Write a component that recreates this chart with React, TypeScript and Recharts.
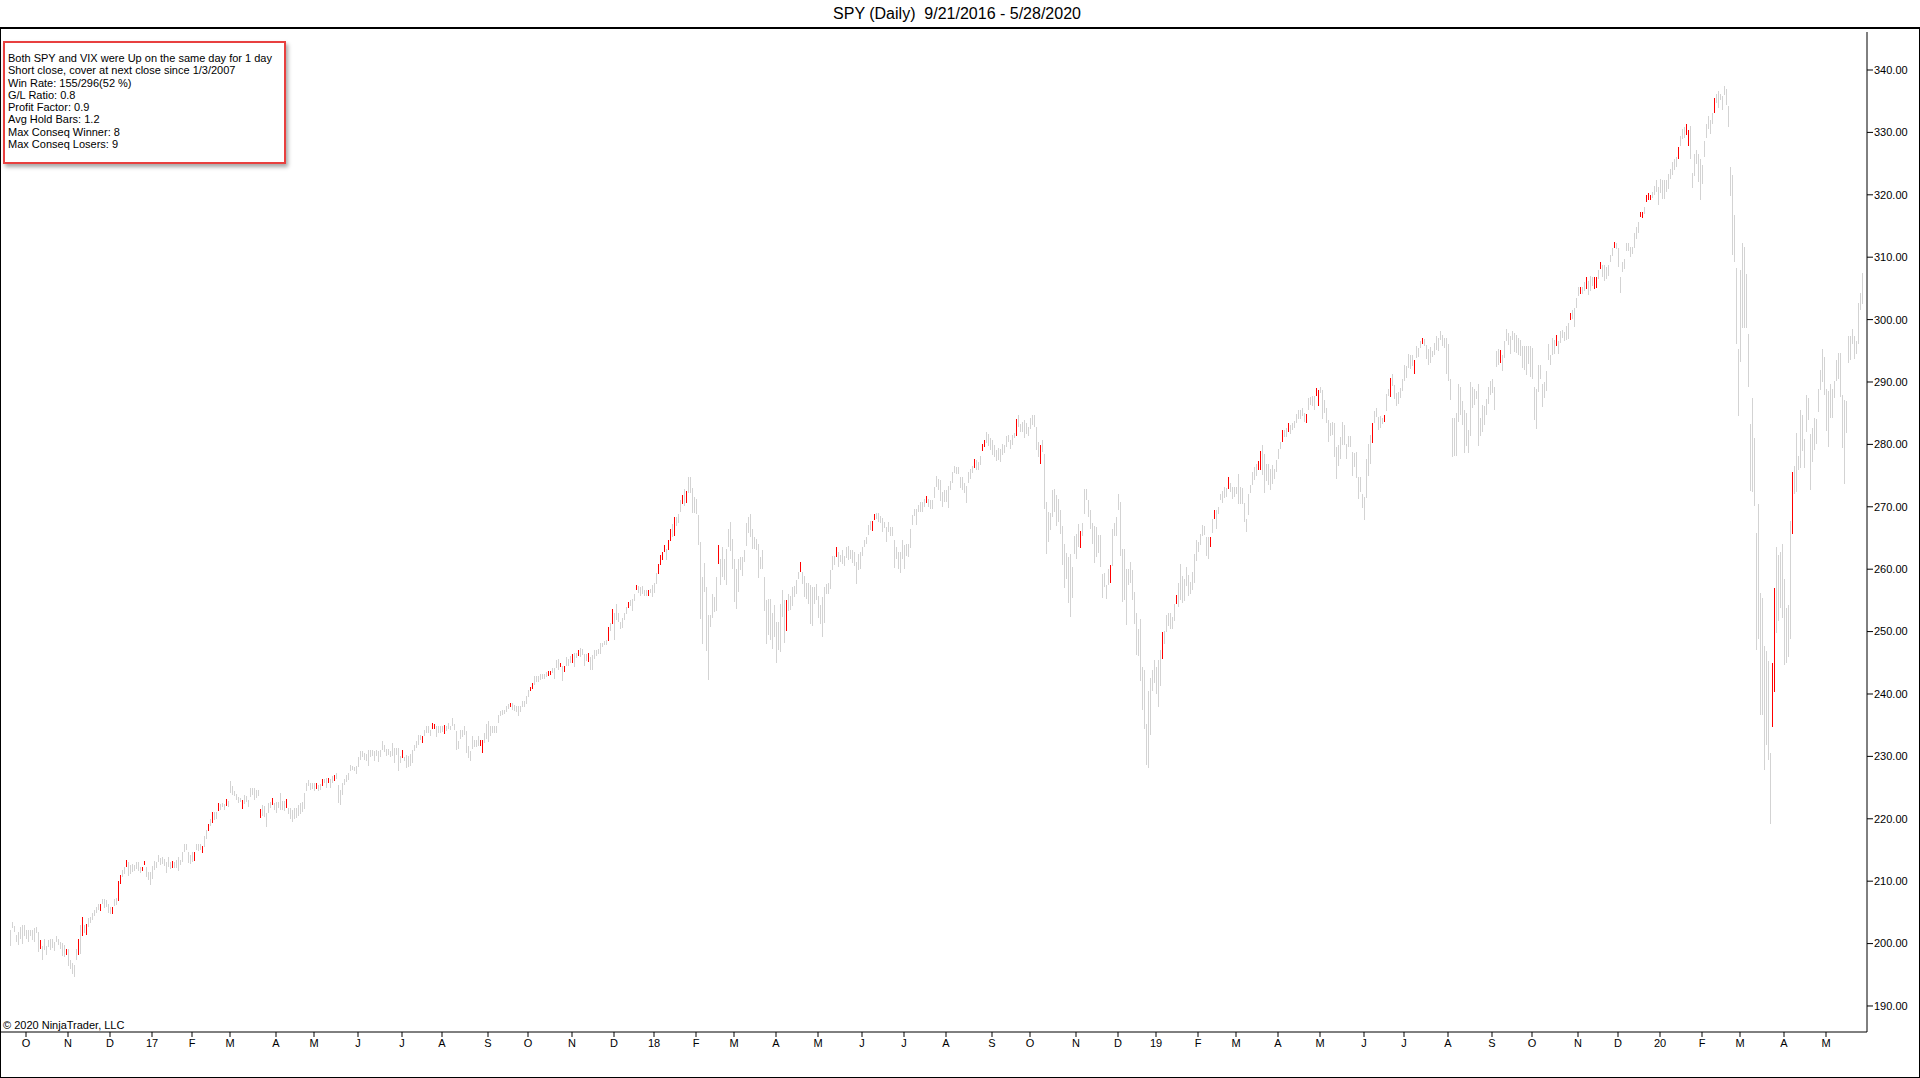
import { ComposedChart, Bar, XAxis, YAxis } from 'recharts'

// daily high/low ranges (dividend adjusted), one month per line
const y2016: [number, number][] = [
  [199.5,202.1],[202.5,203.4],[201.8,202.8],[200.1,201.3],[199.8,201.9],[200.7,202.7],[199.9,202.9],[201.2,203.0],
  [200.7,202.1],[200.1,202.1],[201.2,202.1],[200.5,202.1],[200.2,202.5],[201.8,202.7],[198.6,201.8],[199.0,200.5],[197.3,199.6],[199.0,200.7],[198.2,199.6],[199.4,200.5],[199.1,200.8],[199.2,200.7],[198.7,200.2],[200.3,201.2],[199.9,200.8],[199.1,200.3],[198.0,200.1],[197.8,199.8],[198.3,199.2],
  [196.3,199.1],[195.9,197.4],[195.2,196.9],[194.7,196.6],[197.5,199.2],[198.3,200.8],[198.3,203.0],[201.1,204.2],[201.7,203.0],[201.5,203.2],[202.7,204.1],[203.3,204.2],[203.8,204.9],[204.4,205.4],[204.9,205.9],[205.4,206.3],[205.3,206.4],[206.4,207.2],[205.8,207.2],[205.8,207.0],[204.9,206.4],
  [204.7,205.9],[204.7,205.9],[205.9,207.1],[206.2,207.3],[206.9,210.1],[209.6,211.0],[210.6,211.8],[211.0,212.2],[212.2,213.4],[210.7,213.0],[211.2,212.6],[211.4,212.7],[211.7,212.6],[211.9,213.0],[211.5,213.0],[211.4,212.3],[211.7,212.3],[212.5,213.2],[210.7,212.3],[210.2,211.5],[209.3,211.4],
]

const y2017: [number, number][] = [
  [210.3,212.4],[211.8,213.2],[212.1,213.1],[213.0,214.2],[212.6,213.7],[212.8,213.9],[212.3,213.5],[211.4,213.1],[212.3,213.9],[211.9,213.1],[212.2,213.3],[212.1,213.1],[212.1,213.4],[211.7,213.9],[212.6,213.4],[213.1,214.7],[214.7,216.0],[215.1,216.0],[212.9,214.6],[212.8,214.2],
  [213.0,214.6],[213.1,214.6],[214.9,215.9],[214.7,215.9],[215.0,215.9],[214.6,215.7],[215.5,217.2],[216.7,218.2],[218.1,219.2],[218.7,219.9],[219.4,221.1],[219.8,221.1],[219.9,221.1],[221.3,222.6],[221.5,222.4],[221.9,222.6],[221.4,222.4],[222.1,223.2],[221.9,222.9],
  [224.1,226.1],[223.8,225.2],[223.6,224.4],[223.0,224.0],[222.6,223.5],[222.7,223.3],[221.6,223.0],[222.4,223.8],[222.7,223.7],[221.9,223.0],[223.6,225.0],[223.8,225.0],[223.0,224.9],[223.3,224.6],[223.6,224.6],[220.0,221.5],[220.4,222.2],[220.4,222.1],[218.6,220.9],[221.0,222.6],[221.7,222.7],[222.1,223.3],[221.5,222.6],
  [220.9,222.7],[221.7,222.7],[221.4,224.1],[221.5,222.9],[221.3,222.9],[221.7,223.1],[220.8,221.8],[220.1,221.8],[219.5,221.4],[219.9,221.7],[220.1,221.7],[220.4,222.2],[220.9,222.6],[221.1,222.7],[221.5,224.1],[224.5,225.8],[225.2,226.2],[224.7,225.8],[224.9,225.8],
  [224.4,225.7],[224.9,225.8],[224.4,225.4],[224.7,225.6],[225.3,226.4],[225.7,226.4],[224.9,226.5],[225.8,226.6],[224.9,226.3],[225.7,226.8],[226.1,227.0],[226.3,227.3],[222.5,225.4],[222.2,224.6],[223.8,225.7],[225.3,226.3],[225.9,227.0],[226.2,227.3],[227.6,228.6],[227.8,228.5],[227.6,228.3],[227.2,228.5],
  [228.3,229.9],[229.4,230.8],[229.9,230.8],[229.4,230.5],[229.3,230.4],[228.4,231.0],[230.0,231.1],[230.2,231.1],[229.3,230.9],[230.0,231.0],[229.0,230.8],[229.9,231.1],[231.0,232.4],[230.6,231.8],[230.0,231.2],[230.2,231.2],[229.9,230.8],[230.0,232.1],[228.9,231.3],[230.1,231.3],[227.6,231.3],[228.9,230.0],
  [229.7,231.0],[229.2,229.9],[228.1,230.2],[228.3,230.1],[228.5,230.4],[228.9,231.0],[230.8,231.8],[231.3,232.4],[231.8,233.4],[232.6,233.4],[232.0,233.2],[233.4,234.3],[233.8,234.9],[233.7,234.8],[233.3,234.3],[234.3,235.3],[234.4,235.2],[233.1,234.9],[233.7,234.8],[233.7,234.9],
  [234.0,234.9],[233.6,235.0],[234.0,234.8],[234.3,235.3],[234.2,234.9],[234.8,236.1],[234.2,235.2],[231.1,234.1],[231.1,232.4],[232.7,234.2],[233.2,234.3],[233.4,234.9],[230.5,234.1],[229.7,231.7],[229.3,230.9],[231.1,233.2],[231.5,232.6],[231.4,232.6],[231.6,233.2],[231.6,232.6],[230.5,232.6],[232.1,233.7],[232.8,235.2],
  [232.4,235.7],[233.3,234.9],[233.7,234.8],[233.7,234.8],[233.7,234.8],[235.3,236.6],[236.5,237.3],[236.6,237.4],[236.8,237.5],[237.0,238.0],[237.6,238.4],[237.9,238.6],[237.4,238.5],[237.4,238.3],[237.2,238.1],[236.5,238.1],[237.2,238.1],[237.9,238.9],[238.0,238.9],[238.4,239.7],
  [239.6,240.7],[240.4,241.1],[240.7,241.7],[241.5,242.9],[242.0,242.9],[242.0,242.9],[242.3,243.2],[242.4,243.2],[242.4,243.2],[242.8,243.6],[242.9,243.7],[243.1,243.7],[243.3,244.1],[242.4,244.1],[244.1,245.4],[243.9,245.6],[244.3,244.9],[242.1,244.5],[243.6,244.5],[244.4,245.9],[244.5,245.6],[244.9,246.1],
  [245.0,246.4],[244.3,246.6],[245.7,246.5],[246.1,247.1],[246.0,247.4],[246.3,247.2],[244.4,246.4],[245.2,246.4],[245.2,246.6],[243.9,246.0],[243.8,246.2],[245.7,247.1],[246.2,247.1],[246.4,247.2],[246.5,248.2],[247.5,248.2],[247.9,248.5],[247.9,248.7],[248.6,250.8],[250.0,251.3],[251.3,253.7],
  [248.6,253.0],[251.8,254.4],[251.6,253.0],[250.5,251.6],[250.5,252.1],[251.8,253.0],[252.9,254.0],[253.9,254.8],[254.1,255.1],[253.2,255.2],[255.0,256.1],[256.7,257.5],[256.1,257.3],[255.7,257.2],[256.0,257.3],[255.7,256.6],[255.7,256.6],[255.7,256.7],[256.3,256.9],[255.5,257.5],
]

const y2018: [number, number][] = [
  [256.2,257.8],[257.7,259.4],[259.2,260.8],[260.7,262.3],[261.5,262.8],[262.7,263.9],[261.5,263.3],[263.1,264.7],[264.6,266.5],[265.1,267.2],[265.3,268.4],[266.9,268.4],[267.5,268.9],[269.1,271.1],[270.4,271.9],[270.0,272.8],[270.7,272.6],[272.2,274.7],[272.1,274.7],[269.0,273.0],[269.0,271.5],
  [268.8,271.2],[263.9,268.7],[252.1,264.4],[247.9,258.7],[256.4,261.0],[246.8,257.1],[242.3,252.7],[250.7,252.7],[252.3,256.1],[253.2,255.6],[253.4,258.8],[260.8,263.9],[257.5,261.7],[258.7,263.5],[258.4,261.7],[257.6,263.3],[263.6,266.5],[262.8,267.5],[260.0,264.8],
  [254.8,261.7],[253.7,260.1],[256.4,261.7],[259.8,261.9],[258.9,262.0],[261.2,263.1],[263.7,267.4],[265.9,268.4],[265.1,268.8],[263.2,266.4],[263.1,265.1],[263.1,264.8],[258.5,264.0],[260.0,261.9],[260.0,263.0],[253.4,258.8],[248.1,255.1],[249.5,255.3],[248.8,255.3],[247.2,252.9],[249.2,254.3],
  [245.0,251.6],[247.1,251.6],[246.8,254.5],[252.4,256.7],[248.2,255.1],[250.0,255.0],[253.2,256.0],[253.5,255.7],[254.0,257.1],[255.6,257.3],[256.0,258.3],[258.5,259.6],[259.6,261.2],[257.6,259.6],[255.5,258.9],[255.3,257.8],[254.4,257.8],[251.3,257.5],[250.9,257.2],[254.4,257.2],[255.2,257.7],
  [252.1,255.7],[251.3,254.3],[249.2,255.6],[251.4,257.1],[256.0,257.6],[256.0,257.8],[256.8,259.8],[259.9,262.1],[260.7,262.1],[262.0,263.6],[260.4,262.8],[261.2,262.3],[260.8,263.0],[260.5,262.1],[261.9,263.6],[261.5,263.7],[261.7,263.1],[260.9,263.0],[260.5,262.7],[257.5,261.1],[260.0,262.5],[260.0,262.8],
  [262.0,263.5],[263.6,264.7],[263.9,265.1],[265.5,267.1],[266.3,267.8],[266.2,267.8],[267.8,268.8],[268.0,269.0],[267.5,269.0],[267.4,268.5],[266.0,268.2],[266.6,267.5],[264.3,266.7],[266.0,267.6],[265.3,266.7],[265.3,266.7],[260.1,264.6],[261.6,263.6],[260.0,262.8],[259.4,262.8],[261.5,264.6],
  [260.1,263.9],[262.1,264.0],[261.9,264.0],[263.5,266.5],[267.1,268.7],[268.5,269.6],[267.1,269.6],[269.1,270.3],[269.1,270.7],[269.2,270.8],[269.9,271.2],[270.6,271.7],[269.9,271.2],[269.7,271.1],[269.6,271.1],[271.5,273.2],[273.2,274.9],[272.7,274.5],[271.0,274.3],[270.0,272.4],[270.8,272.7],
  [270.8,272.7],[269.7,273.3],[272.7,274.2],[273.8,275.5],[275.3,276.5],[275.3,276.4],[275.3,276.4],[273.0,274.7],[272.6,274.7],[272.2,273.8],[270.6,273.3],[273.8,275.6],[274.5,276.1],[275.3,276.5],[276.1,277.6],[275.9,277.5],[275.9,277.2],[276.7,278.1],[279.0,280.1],[279.5,280.7],[280.3,282.0],[279.7,281.6],[279.2,281.1],
  [278.3,280.7],[278.0,279.9],[277.4,279.1],[277.6,279.5],[277.2,279.3],[278.4,280.1],[278.6,279.9],[279.5,281.3],[280.4,281.5],[279.3,280.7],[279.9,281.5],[281.1,281.9],[281.3,284.0],[282.8,284.7],[281.9,283.2],[282.0,283.6],[281.0,283.9],[281.6,283.4],[281.3,282.8],
  [282.6,284.3],[283.1,284.7],[282.7,284.7],[279.1,282.8],[278.0,280.4],[276.9,279.9],[278.7,280.7],[269.7,278.5],[262.4,270.8],[264.4,269.2],[266.3,269.0],[268.3,272.7],[269.2,272.9],[266.9,271.9],[267.6,271.3],[265.7,269.5],[260.7,266.9],[256.9,264.0],[258.5,262.6],[254.6,261.9],[252.3,262.4],[255.5,260.4],[262.4,265.3],
  [261.7,265.7],[263.5,267.2],[263.5,266.2],[265.3,267.4],[268.9,272.9],[271.2,272.9],[268.3,271.1],[266.5,269.5],[264.0,267.4],[261.0,266.9],[262.0,266.8],[262.6,265.5],[260.3,265.5],[255.5,259.3],[257.2,259.4],[255.3,257.5],[257.5,260.0],[257.8,260.7],[260.5,266.5],[265.3,267.4],[265.3,268.4],
  [269.5,272.1],[262.1,270.8],[254.8,263.3],[255.1,263.3],[251.2,260.1],[257.5,260.1],[257.8,261.2],[255.0,259.8],[251.2,256.4],[246.2,253.0],[246.1,250.4],[242.0,252.0],[237.5,244.4],[234.3,243.8],[228.6,235.2],[228.2,240.5],[233.3,242.5],[240.6,243.9],[241.8,245.5],
]

const y2019: [number, number][] = [
  [240.1,244.4],[237.9,245.4],[241.3,247.1],[245.7,250.0],[248.0,250.1],[250.0,252.7],[250.9,253.0],[250.4,253.0],[250.4,252.3],[251.7,254.4],[254.5,255.9],[254.0,257.8],[255.0,260.8],[254.6,258.9],[255.0,258.5],[257.3,260.4],[255.7,259.1],[256.1,258.0],[256.7,259.6],[257.8,262.4],[261.2,264.6],
  [262.8,264.4],[263.9,265.7],[265.3,267.1],[265.5,266.9],[262.1,265.2],[261.6,265.2],[263.6,265.2],[265.8,268.1],[268.1,269.5],[266.4,269.5],[268.8,270.0],[271.1,272.1],[270.6,272.6],[271.5,273.2],[271.5,273.0],[272.8,274.8],[272.4,273.8],[271.1,273.1],[271.5,273.1],
  [271.9,273.1],[270.5,275.3],[270.4,273.2],[270.4,273.0],[267.6,270.6],[266.0,268.1],[268.7,272.1],[272.2,273.5],[273.5,275.6],[274.2,276.3],[274.9,276.8],[275.9,277.4],[275.9,279.0],[275.1,279.9],[272.2,278.4],[274.2,276.9],[273.5,276.8],[272.7,276.1],[273.7,276.7],[274.5,276.1],[275.6,277.5],
  [277.6,279.2],[279.2,280.4],[280.3,282.3],[281.1,282.3],[281.2,282.7],[281.9,283.4],[281.6,283.1],[282.4,283.5],[282.6,283.8],[283.4,284.8],[284.0,285.5],[284.1,285.5],[284.5,285.8],[283.6,285.1],[283.4,284.8],[285.6,287.5],[286.3,287.6],[286.1,287.7],[285.5,287.7],[287.7,289.0],[286.1,288.7],
  [288.2,289.2],[284.0,288.7],[285.0,287.1],[283.4,285.8],[280.3,283.9],[281.3,283.4],[281.5,283.6],[278.0,283.5],[274.5,279.6],[276.5,279.9],[277.7,281.2],[279.9,283.6],[279.9,283.1],[277.7,280.1],[279.5,281.3],[279.5,281.3],[274.9,278.8],[276.5,278.7],[274.7,278.8],[271.2,274.8],[272.4,274.8],[269.7,272.0],
  [267.8,271.5],[271.3,277.6],[274.9,280.1],[276.9,281.5],[280.3,283.5],[283.4,285.4],[284.4,285.9],[282.3,284.4],[282.6,284.5],[283.3,284.3],[283.6,284.7],[285.4,288.1],[287.7,288.8],[287.5,290.6],[289.3,291.3],[287.2,289.5],[286.1,288.2],[286.4,288.4],[287.4,289.0],[288.6,290.5],
  [290.2,292.8],[290.7,292.6],[292.3,294.5],[292.2,294.4],[292.6,294.4],[291.4,293.6],[293.8,295.7],[294.0,295.5],[295.3,296.5],[296.1,297.0],[295.7,296.9],[293.6,295.9],[292.7,295.3],[293.0,295.6],[294.0,294.9],[294.3,296.2],[295.1,297.3],[295.0,297.1],[296.7,298.1],[295.9,297.6],[295.4,297.0],[291.2,297.0],
  [290.2,296.1],[287.1,290.4],[278.0,284.3],[278.2,284.3],[278.2,285.1],[283.5,289.6],[284.7,289.2],[283.2,287.0],[278.6,285.5],[279.8,285.1],[278.6,282.3],[281.4,290.0],[285.9,289.2],[286.3,288.8],[287.3,288.6],[279.8,289.7],[281.4,284.3],[281.9,286.3],[283.1,286.2],[284.7,287.3],[286.5,289.2],[287.9,290.2],
  [288.1,290.4],[285.5,289.2],[292.4,294.9],[292.8,295.3],[293.0,295.1],[291.8,294.4],[293.8,296.5],[296.5,298.5],[295.9,297.9],[294.4,297.3],[296.7,298.1],[294.9,297.9],[294.6,297.5],[294.3,297.0],[294.3,296.8],[292.2,295.7],[291.8,295.7],[291.0,295.7],[292.8,295.7],[290.8,295.7],
  [290.4,295.4],[283.9,289.2],[282.4,288.8],[288.3,292.7],[290.5,292.7],[285.9,289.6],[287.5,290.0],[288.6,291.8],[293.6,296.1],[292.8,294.4],[294.3,297.0],[294.5,296.8],[295.7,297.5],[294.4,296.5],[296.2,298.1],[297.0,298.3],[296.6,298.0],[296.7,298.9],[297.0,299.5],[300.0,301.1],[300.1,301.6],[298.9,301.9],[301.9,303.5],
  [303.8,305.2],[304.0,305.2],[304.1,305.3],[304.6,306.0],[304.9,306.8],[304.0,306.2],[304.6,307.0],[305.3,306.8],[304.9,306.8],[305.1,306.8],[306.5,307.9],[308.1,309.2],[306.8,308.7],[306.2,308.7],[306.6,308.5],[307.0,308.7],[309.1,310.3],[310.1,311.4],[311.5,312.5],[311.3,312.2],
  [308.3,311.4],[304.2,306.8],[307.6,309.2],[308.1,309.7],[310.9,312.2],[310.9,312.2],[310.1,311.7],[310.4,311.6],[311.4,313.8],[313.0,314.9],[314.0,315.7],[316.4,317.2],[316.3,317.3],[316.8,318.0],[318.8,320.0],[319.2,320.3],[319.2,320.0],[319.4,320.4],[320.0,321.4],[320.3,322.3],[318.4,321.3],
]

const y2020: [number, number][] = [
  [320.3,322.5],[319.2,322.3],[319.3,322.4],[320.3,322.3],[320.9,323.3],[322.5,324.1],[323.1,325.2],[323.9,325.7],[324.5,326.1],[325.7,327.6],[327.8,329.4],[329.0,330.6],[329.2,330.9],[329.6,331.4],[327.8,330.4],[325.7,331.0],[321.1,323.5],[323.1,326.6],[324.9,327.1],[322.1,326.6],[319.2,325.7],
  [321.7,324.7],[326.0,328.6],[329.2,331.4],[330.6,332.7],[329.8,332.0],[331.4,333.1],[333.1,335.5],[334.7,336.1],[333.9,336.6],[335.1,336.1],[333.6,335.9],[335.9,337.4],[334.3,336.9],[331.0,334.3],[319.8,324.4],[310.3,323.1],[309.2,316.8],[296.2,308.3],[284.5,295.3],
  [293.2,307.9],[298.7,312.3],[298.7,311.7],[298.7,307.3],[289.2,297.7],[272.5,283.2],[272.5,287.5],[270.1,281.0],[247.1,265.8],[248.8,270.5],[236.7,256.2],[236.7,255.4],[227.8,247.7],[231.8,246.9],[229.4,245.3],[219.2,230.6],[234.7,244.9],[240.4,257.0],[249.7,263.5],[251.8,262.3],[253.8,262.7],[252.2,264.0],
  [244.7,258.5],[245.0,253.8],[245.8,254.2],[248.9,267.8],[265.6,275.6],[272.1,276.6],[272.3,281.8],[275.9,278.2],[276.2,285.5],[279.0,284.7],[276.2,280.8],[281.9,287.9],[284.0,287.5],[272.7,281.6],[277.2,282.7],[279.2,284.3],[280.0,284.0],[285.1,288.8],[288.8,292.0],[290.0,295.3],[287.9,294.0],
  [282.1,288.9],[279.6,288.6],[284.3,289.7],[284.3,288.9],[287.5,290.2],[290.2,293.5],[290.4,294.6],[287.5,294.6],[279.4,287.9],[273.7,287.1],[281.8,287.0],[293.0,297.3],[293.5,297.3],[296.1,298.5],[293.6,297.3],[294.4,296.5],[296.1,302.7],[301.4,304.2],[302.6,307.5],
]

// bar numbers (from 9/21/2016) where both SPY and VIX closed up
const signalDays = [
  15, 28, 34, 36, 38, 45, 51, 54, 55, 58, 66, 67, 81, 92, 96, 99, 101, 104, 108, 116, 125, 131, 138, 153, 156, 159, 162, 196, 206, 211, 212, 217,
  235, 236, 250, 260, 261, 269, 270, 275, 277, 281, 284, 289, 299, 301, 309, 313, 319, 324, 325, 326, 327, 329, 330, 332, 336, 338, 354, 388, 395, 413, 431, 432, 458,
  482, 486, 487, 503, 515, 535, 550, 576, 583, 600, 602, 609, 624, 625, 636, 639, 648, 653, 654, 681, 687, 690,
  702, 706, 745, 773, 780, 785, 788, 792, 793, 795, 802, 815, 816, 818, 819, 820, 834, 838, 839, 852, 881, 882, 891,
]

const monthStarts = [
  8, 29, 50, 71, 91, 110, 133, 152, 174, 196, 216, 239, 259, 281, 302, 322, 343, 362, 383, 404, 426, 447,
  468, 491, 510, 533, 554, 573, 594, 613, 634, 655, 677, 697, 719, 741, 761, 784, 804, 825, 846, 865, 887, 908,
]
const monthLabels = [
  'O', 'N', 'D', '17', 'F', 'M', 'A', 'M', 'J', 'J', 'A', 'S', 'O', 'N', 'D', '18', 'F', 'M', 'A', 'M', 'J', 'J',
  'A', 'S', 'O', 'N', 'D', '19', 'F', 'M', 'A', 'M', 'J', 'J', 'A', 'S', 'O', 'N', 'D', '20', 'F', 'M', 'A', 'M',
]
const priceTicks = [190, 200, 210, 220, 230, 240, 250, 260, 270, 280, 290, 300, 310, 320, 330, 340]

const statsLines = [
  'Both SPY and VIX were Up on the same day for 1 day',
  'Short close, cover at next close since 1/3/2007',
  'Win Rate: 155/296(52 %)',
  'G/L Ratio: 0.8',
  'Profit Factor: 0.9',
  'Avg Hold Bars: 1.2',
  'Max Conseq Winner: 8',
  'Max Conseq Losers: 9',
]

const bars = [...y2016, ...y2017, ...y2018, ...y2019, ...y2020].map(([lo, hi], i) => ({
  i,
  range: [lo, hi],
  signal: signalDays.includes(i),
}))

const font = '"Liberation Sans", Arial, sans-serif'
const tickStyle = { fontSize: 11, fontFamily: font, fill: '#000' }

// one pixel wide high-low line, snapped to the pixel grid
const RangeLine = (p: any) => {
  const x = Math.round(p.x + p.width / 2)
  const top = Math.round(Math.min(p.y, p.y + p.height))
  const h = Math.max(1, Math.round(Math.abs(p.height)))
  const sig = p.payload ? p.payload.signal : p.signal
  return <rect x={x} y={top} width={1} height={h} fill={sig ? '#ff0000' : '#d3d3d3'} />
}

export default function App() {
  return (
    <div style={{ position: 'absolute', left: 0, top: 0, width: 1920, height: 1078, background: '#fff', fontFamily: font }}>
      <div
        style={{
          position: 'absolute', left: 0, top: 0, width: 1914, height: 27, lineHeight: '27px',
          textAlign: 'center', fontSize: 16, color: '#000', whiteSpace: 'pre',
        }}
      >
        {'SPY (Daily)  9/21/2016 - 5/28/2020'}
      </div>
      <div
        style={{
          position: 'absolute', left: 0, top: 27, width: 1920, height: 1051, boxSizing: 'border-box',
          borderTop: '2px solid #000', borderLeft: '1px solid #000', borderRight: '1px solid #000', borderBottom: '1px solid #000',
        }}
      />
      <div style={{ position: 'absolute', left: 0, top: 0 }}>
        <ComposedChart width={1920} height={1078} data={bars} margin={{ top: 32, right: 3, bottom: 6, left: 1 }}>
          <XAxis
            dataKey="i"
            type="number"
            domain={[-4.5, 928.5]}
            allowDataOverflow
            ticks={monthStarts}
            interval={0}
            tickFormatter={(v: number) => monthLabels[monthStarts.indexOf(v)]}
            tick={tickStyle}
            tickSize={5}
            tickMargin={2}
            height={40}
            axisLine={{ stroke: '#000' }}
            tickLine={{ stroke: '#000' }}
          />
          <YAxis
            orientation="right"
            type="number"
            domain={[185.83, 346.09]}
            allowDataOverflow
            ticks={priceTicks}
            interval={0}
            tickFormatter={(v: number) => v.toFixed(2)}
            tick={tickStyle}
            tickSize={6}
            tickMargin={1}
            width={50}
            axisLine={{ stroke: '#000' }}
            tickLine={{ stroke: '#000' }}
          />
          <Bar dataKey="range" barSize={1} shape={RangeLine} isAnimationActive={false} />
        </ComposedChart>
      </div>
      <div
        style={{
          position: 'absolute', left: 3, top: 41, width: 283, height: 123, boxSizing: 'border-box',
          border: '2px solid #e8403f', background: '#fff', boxShadow: '2px 3px 4px rgba(0,0,0,0.35)',
          padding: '9px 0 0 3px', fontSize: 11, lineHeight: '12.3px', color: '#000', whiteSpace: 'nowrap',
        }}
      >
        {statsLines.map((t) => (
          <div key={t}>{t}</div>
        ))}
      </div>
      <div style={{ position: 'absolute', left: 3, top: 1019, fontSize: 11, lineHeight: '13px', color: '#000' }}>
        © 2020 NinjaTrader, LLC
      </div>
    </div>
  )
}
